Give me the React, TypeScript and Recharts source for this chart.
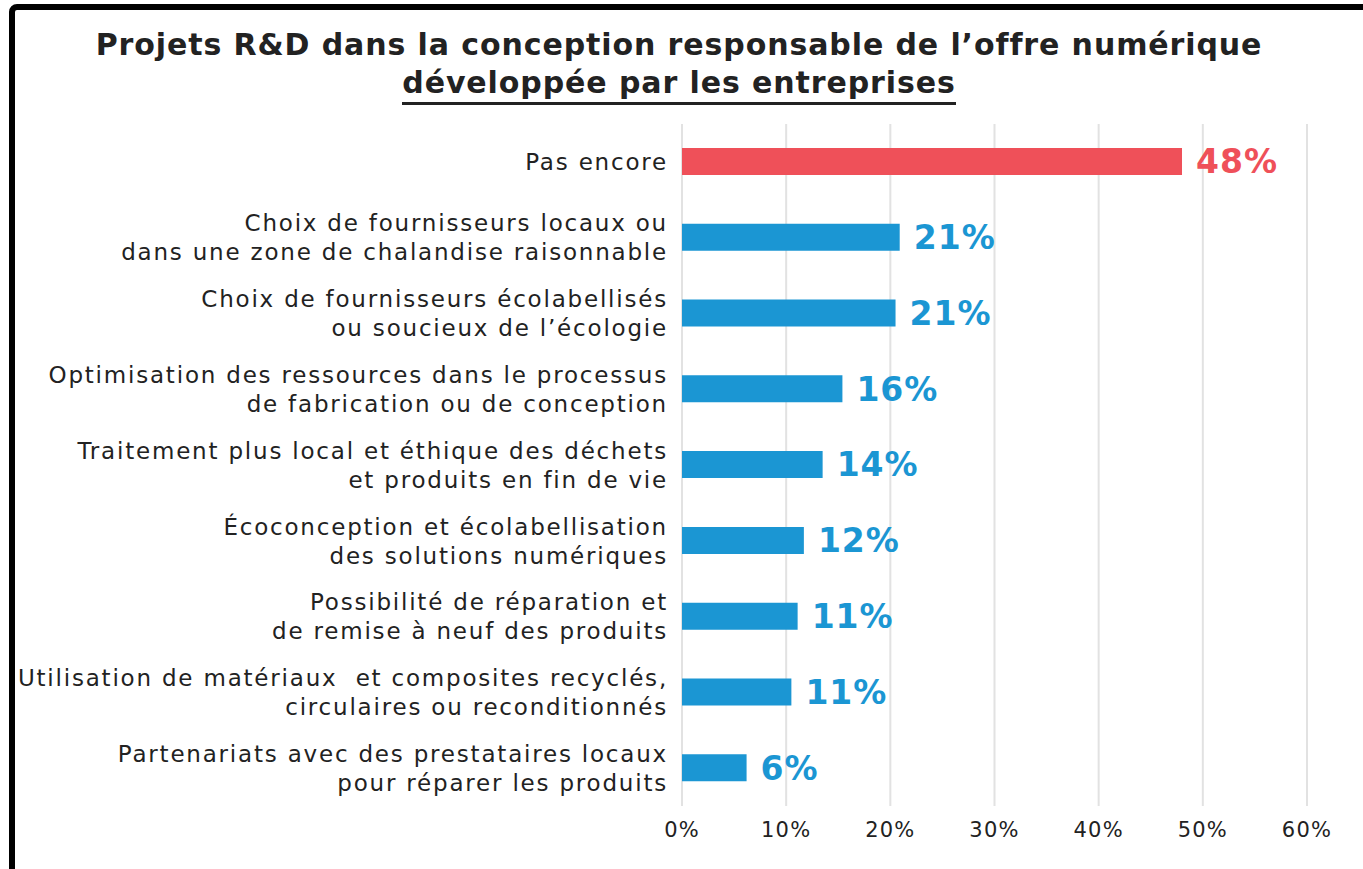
import { Bar, BarChart, CartesianGrid, Cell, LabelList, XAxis, YAxis } from 'recharts';

const categories = [
  ['Pas encore'],
  ['Choix de fournisseurs locaux ou', 'dans une zone de chalandise raisonnable'],
  ['Choix de fournisseurs écolabellisés', 'ou soucieux de l’écologie'],
  ['Optimisation des ressources dans le processus', 'de fabrication ou de conception'],
  ['Traitement plus local et éthique des déchets', 'et produits en fin de vie'],
  ['Écoconception et écolabellisation', 'des solutions numériques'],
  ['Possibilité de réparation et', 'de remise à neuf des produits'],
  ['Utilisation de matériaux  et composites recyclés,', 'circulaires ou reconditionnés'],
  ['Partenariats avec des prestataires locaux', 'pour réparer les produits'],
];

const values = [48, 20.9, 20.5, 15.4, 13.5, 11.7, 11.1, 10.5, 6.2];
const valueLabels = ['48%', '21%', '21%', '16%', '14%', '12%', '11%', '11%', '6%'];
const xTicks = [0, 10, 20, 30, 40, 50, 60];

const RED = '#ef5059';
const BLUE = '#1b96d3';
const FONT = '"DejaVu Sans", sans-serif';

const data = categories.map((c, i) => ({
  name: c.join('\n'),
  value: values[i],
  label: valueLabels[i],
}));

const CategoryTick = (props: any) => {
  const { x, y, payload } = props;
  const lines: string[] = String(payload.value).split('\n');
  const lh = 29;
  const start = -((lines.length - 1) * lh) / 2;
  return (
    <text
      x={x}
      y={y}
      textAnchor="end"
      fill="#222"
      fontSize={23}
      fontFamily={FONT}
      style={{ whiteSpace: 'pre', letterSpacing: 1.8 }}
    >
      {lines.map((l, i) => (
        <tspan key={i} x={x} y={y + start + i * lh} dy="0.36em">
          {l}
        </tspan>
      ))}
    </text>
  );
};

const ValueLabel = (props: any) => {
  const { x, y, width, height, index } = props;
  return (
    <text
      x={x + width + 14}
      y={y + height / 2}
      dy="0.36em"
      fill={index === 0 ? RED : BLUE}
      fontSize={33}
      fontWeight={700}
      fontFamily={FONT}
      style={{ letterSpacing: 1 }}
    >
      {valueLabels[index]}
    </text>
  );
};

const App = () => (
  <div
    style={{
      position: 'absolute',
      left: 0,
      top: 0,
      width: 1363,
      height: 869,
      background: '#fff',
      overflow: 'hidden',
      fontFamily: FONT,
    }}
  >
    <div
      style={{
        position: 'absolute',
        left: 9,
        top: 4,
        width: 1400,
        height: 900,
        border: '6px solid #000',
        borderRadius: 8,
        boxSizing: 'border-box',
      }}
    />
    <div
      style={{
        position: 'absolute',
        left: 0,
        top: 26,
        width: 1358,
        textAlign: 'center',
        fontSize: 30,
        fontWeight: 700,
        color: '#222',
        lineHeight: '38px',
        letterSpacing: 0.9,
      }}
    >
      Projets R&amp;D dans la conception responsable de l’offre numérique
      <br />
      <span style={{ display: 'inline-block', borderBottom: '3px solid #222', paddingBottom: 2, lineHeight: '34px' }}>
        développée par les entreprises
      </span>
    </div>
    <div style={{ position: 'absolute', left: 0, top: 0 }}>
      <BarChart
        layout="vertical"
        width={1363}
        height={869}
        data={data}
        margin={{ top: 124, right: 56, bottom: 13, left: 0 }}
      >
        <CartesianGrid horizontal={false} vertical stroke="#e2e2e2" strokeWidth={2} />
        <XAxis
          type="number"
          domain={[0, 60]}
          ticks={xTicks}
          tickFormatter={(v: number) => `${v}%`}
          axisLine={false}
          tickLine={false}
          height={50}
          tick={{ fill: '#222', fontSize: 21, fontFamily: FONT, style: { letterSpacing: 1.2 } } as any}
          tickMargin={10}
        />
        <YAxis
          type="category"
          dataKey="name"
          width={682}
          axisLine={false}
          tickLine={false}
          tickSize={6}
          tickMargin={8}
          tick={<CategoryTick />}
          interval={0}
        />
        <Bar dataKey="value" isAnimationActive={false} barSize={27}>
          {data.map((_, i) => (
            <Cell key={i} fill={i === 0 ? RED : BLUE} />
          ))}
          <LabelList dataKey="label" content={<ValueLabel />} />
        </Bar>
      </BarChart>
    </div>
  </div>
);

export default App;
